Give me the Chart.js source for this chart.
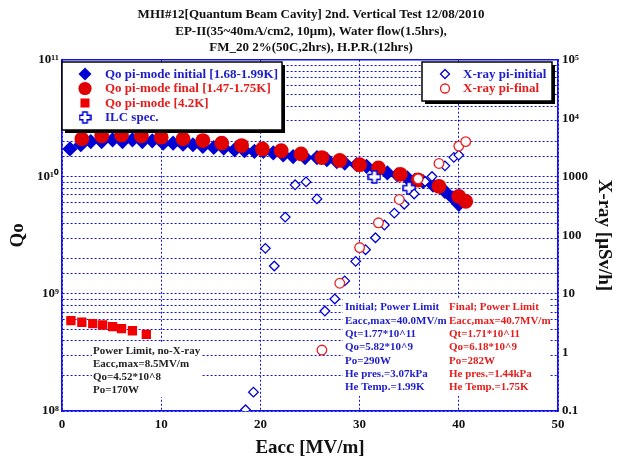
<!DOCTYPE html>
<html>
<head>
<meta charset="utf-8">
<title>MHI#12 Quantum Beam Cavity - 2nd Vertical Test</title>
<script src="https://cdn.jsdelivr.net/npm/chart.js@4.4.1/dist/chart.umd.min.js"></script>
<style>
  body { margin: 0; background: #fff; }
  #wrap { width: 622px; height: 462px; }
</style>
</head>
<body>
<div id="wrap"><canvas id="qChart" width="622" height="462"></canvas></div>
<script>
// Qo vs Eacc (pi-mode) with field emission X-ray on the right axis

// --- Qo, pi-mode initial run [1.68-1.99K]
const eaccInitial = [0.8, 1.9, 2.9, 4.0, 5.1, 6.1, 7.1, 8.1, 9.1, 10.2, 11.2, 12.2, 13.2, 14.2,
  15.3, 16.3, 17.4, 18.4, 19.4, 20.3, 21.3, 22.3, 23.3, 24.5, 25.7, 26.7, 27.7, 28.5, 29.7,
  30.7, 31.7, 32.8, 33.8, 34.8, 35.6, 36.4, 37.4, 38.6, 39.4, 40.0];
const qoInitial = [1.73e10, 1.88e10, 2.0e10, 2.0e10, 2.07e10, 2.0e10, 2.07e10, 2.0e10, 2.03e10,
  1.94e10, 1.94e10, 1.90e10, 1.88e10, 1.82e10, 1.78e10, 1.76e10, 1.70e10, 1.67e10, 1.65e10,
  1.65e10, 1.60e10, 1.54e10, 1.49e10, 1.46e10, 1.46e10, 1.40e10, 1.35e10, 1.31e10, 1.27e10,
  1.23e10, 1.15e10, 1.08e10, 1.04e10, 9.8e9, 9.4e9, 9.1e9, 8.5e9, 7.5e9, 6.6e9, 5.82e9];

// --- Qo, pi-mode final run [1.47-1.75K]
const eaccFinal = [2.0, 4.0, 6.0, 8.0, 10.0, 12.2, 14.2, 16.1, 18.1, 20.2, 22.1, 24.1, 26.2,
  28.0, 30.0, 31.9, 34.1, 35.9, 38.0, 40.0, 40.7];
const qoFinal = [2.11e10, 2.24e10, 2.28e10, 2.24e10, 2.18e10, 2.11e10, 2.04e10, 1.94e10, 1.85e10,
  1.73e10, 1.67e10, 1.57e10, 1.46e10, 1.38e10, 1.27e10, 1.19e10, 1.05e10, 9.4e9, 8.3e9, 6.8e9, 6.18e9];

// --- Qo, pi-mode at 4.2K
const eacc42K = [0.9, 2.0, 3.1, 4.1, 5.1, 6.0, 7.1, 8.5];
const qo42K = [5.92e8, 5.73e8, 5.57e8, 5.43e8, 5.25e8, 5.05e8, 4.85e8, 4.52e8];

// --- ILC spec
const eaccIlc = [31.5, 35.0];
const qoIlc = [1.0e10, 8.0e9];

// --- X-ray [uSv/h]
const eaccXrayInitial = [18.5, 19.3, 20.5, 21.4, 22.5, 23.5, 24.6, 25.7, 26.5, 27.5, 28.5, 29.6,
  30.6, 31.6, 32.5, 33.5, 34.5, 35.5, 36.6, 37.3, 38.6, 39.5, 40.0];
const xrayInitial = [0.105, 0.21, 60, 30, 205, 730, 820, 420, 5.1, 8.2, 16.7, 36, 57, 91, 150,
  240, 340, 510, 830, 1010, 1540, 2150, 2350];
const eaccXrayFinal = [26.2, 28.0, 30.0, 31.9, 34.0, 35.9, 38.0, 40.0, 40.7];
const xrayFinal = [1.1, 15.2, 62, 164, 410, 925, 1690, 3350, 4000];

// --- texts
const titleLines = [
  'MHI#12[Quantum Beam Cavity] 2nd. Vertical Test 12/08/2010',
  'EP-II(35~40mA/cm2, 10\u03bcm), Water flow(1.5hrs),',
  'FM_20 2%(50C,2hrs), H.P.R.(12hrs)'
];
const qoTickLabels = { 8: '10\u2078', 9: '10\u2079', 10: '10\u00b9\u2070', 11: '10\u00b9\u00b9' };
const xrayTickLabels = { '-1': '0.1', 0: '1', 1: '10', 2: '100', 3: '1000', 4: '10\u2074', 5: '10\u2075' };
const noteLowT = ['Power Limit, no-X-ray', 'Eacc,max=8.5MV/m', 'Qo=4.52*10^8', 'Po=170W'];
const noteInitial = ['Initial; Power Limit', 'Eacc,max=40.0MV/m', 'Qt=1.77*10^11', 'Qo=5.82*10^9',
  'Po=290W', 'He pres.=3.07kPa', 'He Temp.=1.99K'];
const noteFinal = ['Final; Power Limit', 'Eacc,max=40.7MV/m', 'Qt=1.71*10^11', 'Qo=6.18*10^9',
  'Po=282W', 'He pres.=1.44kPa', 'He Temp.=1.75K'];

const BLUE = '#0000d4';
const RED = '#e00000';
const TXT_BLUE = '#1c1cc8';
const TXT_RED = '#e41c1c';
const AXIS = '#1010e8';
const SERIF = "'Liberation Serif', 'Times New Roman', serif";

Chart.defaults.font.family = SERIF;
Chart.defaults.font.weight = 'bold';
Chart.defaults.color = '#111';

const pts = (xs, ys) => xs.map((x, i) => ({ x, y: ys[i] }));

// white-filled outline cross used for the ILC spec marker
function crossImage(size, color) {
  const c = document.createElement('canvas');
  c.width = c.height = size;
  const g = c.getContext('2d');
  const a = size * 0.33, b = size - a, p = 1;
  g.beginPath();
  g.moveTo(a, p); g.lineTo(b, p); g.lineTo(b, a); g.lineTo(size - p, a); g.lineTo(size - p, b);
  g.lineTo(b, b); g.lineTo(b, size - p); g.lineTo(a, size - p); g.lineTo(a, b); g.lineTo(p, b);
  g.lineTo(p, a); g.lineTo(a, a); g.closePath();
  g.fillStyle = '#fff'; g.fill();
  g.lineWidth = 1.5; g.strokeStyle = color; g.stroke();
  return c;
}
const ilcMark = crossImage(14, BLUE);
const ilcMarkSmall = crossImage(13, BLUE);

// first dataset is painted last (on top)
const datasets = [
  { label: 'X-ray pi-final', data: pts(eaccXrayFinal, xrayFinal), yAxisID: 'y2',
    pointStyle: 'circle', pointRadius: 4.8, borderWidth: 1.3, borderColor: '#ee2020', backgroundColor: '#fff' },
  { label: 'X-ray pi-initial', data: pts(eaccXrayInitial, xrayInitial), yAxisID: 'y2',
    pointStyle: 'rectRot', pointRadius: 4.8, borderWidth: 1.3, borderColor: BLUE, backgroundColor: '#fff' },
  { label: 'ILC spec.', data: pts(eaccIlc, qoIlc), yAxisID: 'y',
    pointStyle: ilcMark, pointRadius: 7 },
  { label: 'Qo pi-mode [4.2K]', data: pts(eacc42K, qo42K), yAxisID: 'y',
    pointStyle: 'rect', pointRadius: 6.6, borderWidth: 0, backgroundColor: '#f00000' },
  { label: 'Qo pi-mode final [1.47-1.75K]', data: pts(eaccFinal, qoFinal), yAxisID: 'y',
    pointStyle: 'circle', pointRadius: 7.4, borderWidth: 0, backgroundColor: RED },
  { label: 'Qo pi-mode initial [1.68-1.99K]', data: pts(eaccInitial, qoInitial), yAxisID: 'y',
    pointStyle: 'rectRot', pointRadius: 7.6, borderWidth: 0, backgroundColor: BLUE }
];

const legendLeft = {
  box: [62, 62, 220, 68], markX: 85, textX: 105, rowY: 74, step: 14.5,
  items: [
    { ds: 5, color: TXT_BLUE, r: 6.5 },
    { ds: 4, color: TXT_RED, r: 6.6 },
    { ds: 3, color: TXT_RED, r: 6.4 },
    { ds: 2, color: TXT_BLUE, img: ilcMarkSmall }
  ]
};
const legendRight = {
  box: [422, 62, 130, 39], markX: 445, textX: 463, rowY: 74, step: 14.5,
  items: [
    { ds: 1, color: TXT_BLUE, r: 4.5 },
    { ds: 0, color: TXT_RED, r: 4.5 }
  ]
};

const decadeLabel = (table) => (v) => {
  const l = Math.log10(v);
  const r = Math.round(l);
  return Math.abs(l - r) < 1e-6 && table[r] !== undefined ? table[r] : '';
};

// white text panels inside the plot
const notesPlugin = {
  id: 'notes',
  beforeDatasetsDraw(chart) {
    const ctx = chart.ctx;
    ctx.save();
    ctx.fillStyle = '#fff';
    ctx.fillRect(92, 343, 110, 54);
    ctx.fillRect(343, 299, 206, 97);
    ctx.font = 'bold 11px ' + SERIF;
    ctx.textBaseline = 'middle';
    ctx.textAlign = 'left';
    ctx.fillStyle = '#222';
    noteLowT.forEach((t, i) => ctx.fillText(t, 93, 351 + i * 13.1));
    ctx.fillStyle = TXT_BLUE;
    noteInitial.forEach((t, i) => ctx.fillText(t, 345, 307.5 + i * 13.3));
    ctx.fillStyle = TXT_RED;
    noteFinal.forEach((t, i) => ctx.fillText(t, 449, 307.5 + i * 13.3));
    ctx.restore();
  }
};

function drawLegend(chart, lg) {
  const ctx = chart.ctx;
  const [x, y, w, h] = lg.box;
  ctx.save();
  ctx.fillStyle = '#000';
  ctx.fillRect(x + 3, y + 3, w, h);
  ctx.fillStyle = '#fff';
  ctx.fillRect(x, y, w, h);
  ctx.lineWidth = 1.5;
  ctx.strokeStyle = '#000';
  ctx.strokeRect(x, y, w, h);
  ctx.font = 'bold 13px ' + SERIF;
  ctx.textBaseline = 'middle';
  lg.items.forEach((it, i) => {
    const ds = chart.data.datasets[it.ds];
    const cy = lg.rowY + i * lg.step;
    ctx.fillStyle = ds.backgroundColor || '#fff';
    ctx.strokeStyle = ds.borderColor || ds.backgroundColor;
    ctx.lineWidth = ds.borderWidth || 0;
    Chart.helpers.drawPoint(ctx, {
      pointStyle: it.img || ds.pointStyle,
      radius: it.r || 7,
      rotation: 0,
      borderWidth: ds.borderWidth || 0
    }, lg.markX, cy);
    ctx.fillStyle = it.color;
    ctx.fillText(ds.label, lg.textX, cy + 0.5);
  });
  ctx.restore();
}

const legendPlugin = {
  id: 'boxLegends',
  afterDraw(chart) {
    drawLegend(chart, legendLeft);
    drawLegend(chart, legendRight);
  }
};

new Chart(document.getElementById('qChart'), {
  type: 'scatter',
  data: { datasets },
  options: {
    responsive: false,
    animation: false,
    layout: { padding: 0 },
    plugins: {
      legend: { display: false },
      tooltip: { enabled: false },
      title: {
        display: true,
        text: titleLines,
        color: '#111',
        font: { size: 13, weight: 'bold', lineHeight: 1.25 },
        padding: { top: 7, bottom: 4 }
      }
    },
    scales: {
      x: {
        type: 'linear', min: 0, max: 50,
        afterFit: s => { s.height = 51; },
        ticks: { stepSize: 10, padding: 6, font: { size: 13 }, maxRotation: 0 },
        grid: { color: AXIS, lineWidth: 1, drawTicks: false },
        border: { color: AXIS, width: 1.6, dash: [2, 2] },
        title: { display: true, text: 'Eacc [MV/m]', font: { size: 19 }, padding: { top: 3, bottom: 3 } }
      },
      x2: {
        type: 'linear', position: 'top', min: 0, max: 50,
        afterFit: s => { s.height = 0; },
        ticks: { display: false },
        grid: { drawOnChartArea: false, drawTicks: false },
        border: { color: AXIS, width: 1.6 }
      },
      y: {
        type: 'logarithmic', position: 'left', min: 1e8, max: 1e11,
        afterFit: s => { s.width = 62; },
        ticks: { callback: decadeLabel(qoTickLabels), autoSkip: false, padding: 3, font: { size: 13 } },
        grid: { color: AXIS, lineWidth: 1, drawTicks: false },
        border: { color: AXIS, width: 1.6, dash: [2, 2] },
        title: { display: true, text: 'Qo', font: { size: 19 }, padding: { top: 7, bottom: 7 } }
      },
      y2: {
        type: 'logarithmic', position: 'right', min: 0.1, max: 1e5,
        afterFit: s => { s.width = 64; },
        ticks: { callback: decadeLabel(xrayTickLabels), autoSkip: false, padding: 4, font: { size: 13 } },
        grid: { drawOnChartArea: false, drawTicks: false },
        border: { color: AXIS, width: 1.6 },
        title: { display: true, text: 'X-ray [\u03bcSv/h]', font: { size: 19 }, padding: { top: 7, bottom: 7 } }
      }
    }
  },
  plugins: [notesPlugin, legendPlugin]
});
</script>
</body>
</html>
